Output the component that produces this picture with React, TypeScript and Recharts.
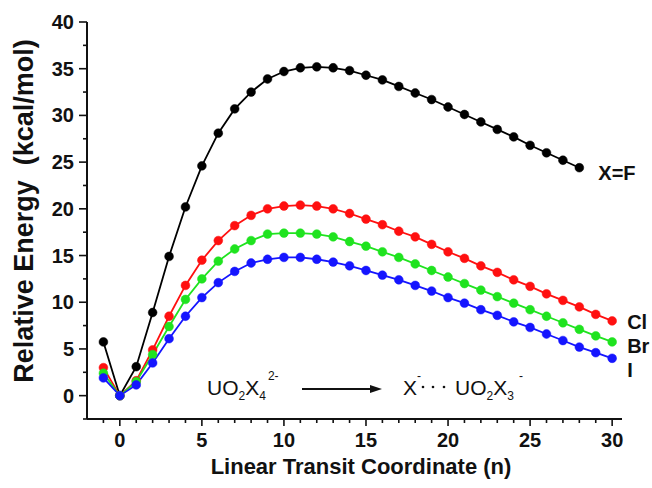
import React from 'react';
import { LineChart, Line, XAxis, YAxis } from 'recharts';

// linear transit coordinate n
const coords = [-1, 0, 1, 2, 3, 4, 5, 6, 7, 8, 9, 10, 11, 12, 13, 14, 15, 16, 17, 18, 19, 20, 21, 22, 23, 24, 25, 26, 27, 28, 29, 30];

// relative energies (kcal/mol); X=F stops at n=28
const fluoride = [5.75, 0, 3.1, 8.9, 14.9, 20.2, 24.6, 28.1, 30.7, 32.5, 33.9, 34.7, 35.1, 35.2, 35.1, 34.8, 34.3, 33.8, 33.1, 32.4, 31.7, 30.9, 30.1, 29.3, 28.5, 27.7, 26.8, 26.0, 25.2, 24.4];
const chloride = [3.0, 0, 1.6, 4.9, 8.5, 11.8, 14.5, 16.6, 18.2, 19.3, 20.0, 20.3, 20.4, 20.3, 20.0, 19.5, 18.9, 18.3, 17.6, 17.0, 16.2, 15.4, 14.7, 13.9, 13.2, 12.4, 11.7, 10.9, 10.2, 9.5, 8.7, 8.0];
const bromide = [2.4, 0, 1.5, 4.4, 7.4, 10.3, 12.5, 14.4, 15.7, 16.6, 17.3, 17.4, 17.4, 17.3, 17.0, 16.5, 16.0, 15.4, 14.8, 14.1, 13.4, 12.7, 12.0, 11.3, 10.6, 9.9, 9.2, 8.5, 7.8, 7.1, 6.4, 5.75];
const iodide = [1.9, 0, 1.15, 3.5, 6.1, 8.5, 10.5, 12.1, 13.3, 14.2, 14.6, 14.8, 14.8, 14.6, 14.3, 13.9, 13.4, 12.9, 12.4, 11.8, 11.2, 10.5, 9.9, 9.2, 8.6, 7.9, 7.3, 6.6, 5.9, 5.2, 4.6, 4.0];

const xTicks = [-1, 0, 1, 2, 3, 4, 5, 6, 7, 8, 9, 10, 11, 12, 13, 14, 15, 16, 17, 18, 19, 20, 21, 22, 23, 24, 25, 26, 27, 28, 29, 30];
const yTicks = [-2.5, 0, 2.5, 5, 7.5, 10, 12.5, 15, 17.5, 20, 22.5, 25, 27.5, 30, 32.5, 35, 37.5, 40];

const FONT = '"Liberation Sans", Arial, sans-serif';
const INK = '#111';

const rows = coords.map((n, i) => ({
  n,
  F: fluoride[i] ?? null,
  Cl: chloride[i],
  Br: bromide[i],
  I: iodide[i],
}));

const series = [
  { key: 'F', color: '#000000', name: 'X=F', dx: 19, dy: 12 },
  { key: 'Cl', color: '#ff1010', name: 'Cl', dx: 15, dy: 8.5 },
  { key: 'Br', color: '#1fe31f', name: 'Br', dx: 15, dy: 10.7 },
  { key: 'I', color: '#1515ff', name: 'I', dx: 15, dy: 18.3 },
];

const XTick = (props: any) => {
  const { x, y, payload } = props;
  const major = payload.value % 5 === 0;
  return (
    <g>
      <line x1={x} y1={y} x2={x} y2={y + (major ? 7 : 4)} stroke={INK} strokeWidth={1.6} />
      {major && (
        <text x={x} y={y + 28} textAnchor="middle" fontSize={20} fontWeight="bold" fontFamily={FONT} fill={INK}>
          {payload.value}
        </text>
      )}
    </g>
  );
};

const YTick = (props: any) => {
  const { x, y, payload } = props;
  const major = payload.value % 5 === 0;
  return (
    <g>
      <line x1={x - (major ? 8 : 4)} y1={y} x2={x} y2={y} stroke={INK} strokeWidth={1.6} />
      {major && (
        <text x={x - 13} y={y + 7} textAnchor="end" fontSize={20} fontWeight="bold" fontFamily={FONT} fill={INK}>
          {payload.value}
        </text>
      )}
    </g>
  );
};

const endLabel = (s: typeof series[number], lastIndex: number) => (props: any) => {
  if (props.index !== lastIndex) return null;
  return (
    <text key={s.key} x={props.x + s.dx} y={props.y + s.dy} fontSize={20} fontWeight="bold" fontFamily={FONT} fill={INK}>
      {s.name}
    </text>
  );
};

export default function App() {
  // pinned to the page corner so the body margin does not push it into scrollbars
  return (
    <div style={{ position: 'absolute', left: 0, top: 0, width: 652, height: 488, background: '#fff' }}>
      <LineChart width={652} height={488} data={rows} margin={{ top: 22, right: 30, left: 0, bottom: 0 }}>
        <XAxis
          dataKey="n"
          type="number"
          domain={[-2, 30.6]}
          ticks={xTicks}
          interval={0}
          tickSize={0}
          tickMargin={0}
          tickLine={false}
          tick={<XTick />}
          axisLine={{ stroke: INK, strokeWidth: 2 }}
          height={69}
        />
        <YAxis
          type="number"
          domain={[-2.5, 40]}
          ticks={yTicks}
          interval={0}
          tickSize={0}
          tickMargin={0}
          tickLine={false}
          tick={<YTick />}
          axisLine={{ stroke: INK, strokeWidth: 2 }}
          width={87}
        />
        {series.map((s) => {
          const last = s.key === 'F' ? fluoride.length - 1 : coords.length - 1;
          return (
            <Line
              key={s.key}
              dataKey={s.key}
              type="linear"
              stroke={s.color}
              strokeWidth={1.8}
              dot={{ r: 4.4, fill: s.color, stroke: s.color, strokeWidth: 0.5 }}
              activeDot={false}
              connectNulls={false}
              isAnimationActive={false}
              label={endLabel(s, last)}
            />
          );
        })}
      </LineChart>
      <svg
        width={652}
        height={488}
        style={{ position: 'absolute', left: 0, top: 0, pointerEvents: 'none' }}
        fontFamily={FONT}
      >
        <text
          transform="translate(33,211) rotate(-90)"
          textAnchor="middle"
          fontSize={27}
          fontWeight="bold"
          fill={INK}
        >
          {'Relative Energy\u00A0\u00A0(kcal/mol)'}
        </text>
        <text x={361} y={474} textAnchor="middle" fontSize={22} fontWeight="bold" fill={INK}>
          Linear Transit Coordinate (n)
        </text>
        {/* reaction annotation */}
        <text x={207} y={395} fontSize={21} fill={INK}>
          UO<tspan fontSize={12} dy={5}>2</tspan>
          <tspan dy={-5}>X</tspan>
          <tspan fontSize={12} dy={5}>4</tspan>
          <tspan fontSize={12} dx={2} dy={-20}>2-</tspan>
        </text>
        <line x1={302} y1={389} x2={374} y2={389} stroke={INK} strokeWidth={2} />
        <polygon points="382,389 370,385 370,393" fill={INK} />
        <text x={403} y={395} fontSize={21} fill={INK}>
          X<tspan fontSize={12} dy={-15}>-</tspan>
        </text>
        <circle cx={423} cy={387} r={1.3} fill={INK} />
        <circle cx={433} cy={387} r={1.3} fill={INK} />
        <circle cx={444} cy={387} r={1.3} fill={INK} />
        <text x={455} y={395} fontSize={21} fill={INK}>
          UO<tspan fontSize={12} dy={5}>2</tspan>
          <tspan dy={-5}>X</tspan>
          <tspan fontSize={12} dy={5}>3</tspan>
          <tspan fontSize={12} dx={5} dy={-20}>-</tspan>
        </text>
      </svg>
    </div>
  );
}
